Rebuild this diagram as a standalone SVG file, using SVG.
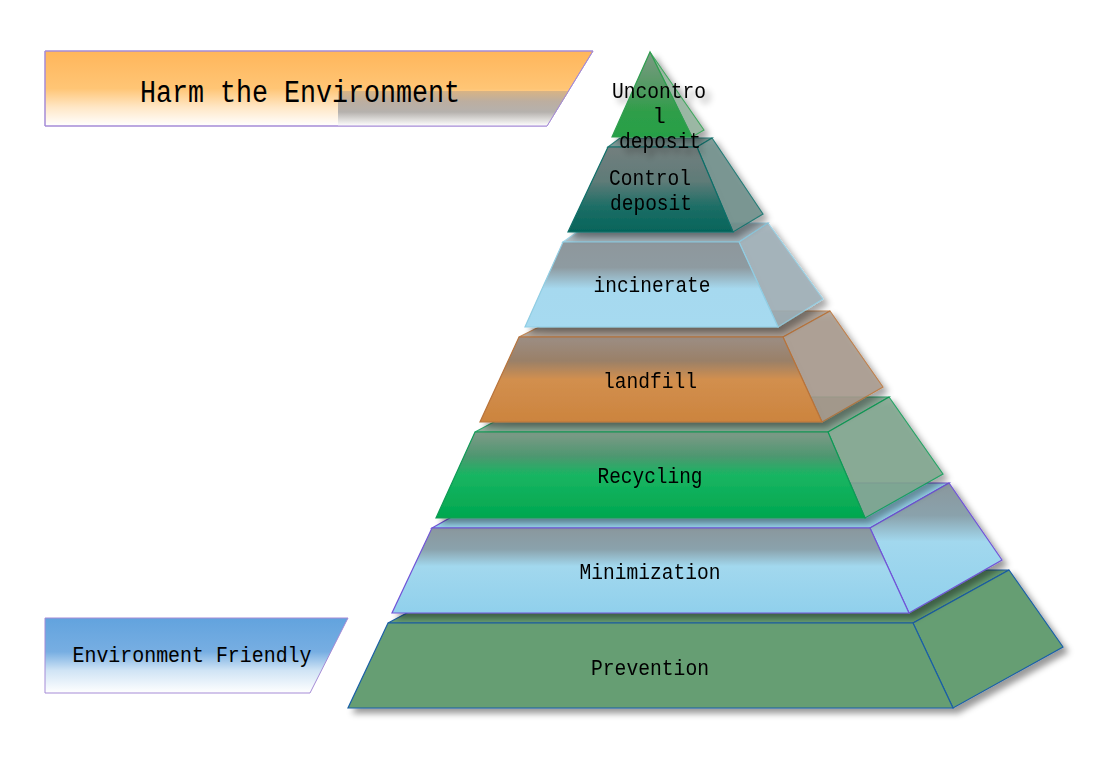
<svg xmlns="http://www.w3.org/2000/svg" width="1107" height="759" viewBox="0 0 1107 759">
<defs>
<style>
.lbl{font-family:"Liberation Mono","DejaVu Sans Mono",monospace;font-size:22px;fill:#000;text-anchor:middle}
.ban{stroke:#a58bd6;stroke-width:1}
.sideop{opacity:0.85}
</style>
<filter id="sh" x="-10%" y="-10%" width="130%" height="130%">
<feDropShadow dx="5" dy="5" stdDeviation="3" flood-color="#000" flood-opacity="0.4"/>
</filter>
<linearGradient id="gTop" x1="0" y1="0" x2="0" y2="1">
<stop offset="0" stop-color="#ffb65b"/><stop offset="0.5" stop-color="#ffc575"/><stop offset="0.75" stop-color="#ffe7c6"/><stop offset="1" stop-color="#ffffff"/>
</linearGradient>
<linearGradient id="gGray" x1="0" y1="0" x2="0" y2="1">
<stop offset="0" stop-color="#d8b384"/><stop offset="0.3" stop-color="#bcaea0"/><stop offset="0.6" stop-color="#b5b1ad"/><stop offset="1" stop-color="#ffffff"/>
</linearGradient>
<linearGradient id="gBot" x1="0" y1="0" x2="0" y2="1">
<stop offset="0" stop-color="#62a3de"/><stop offset="0.45" stop-color="#77aee2"/><stop offset="0.7" stop-color="#d0e4f5"/><stop offset="1" stop-color="#ffffff"/>
</linearGradient>
<linearGradient id="gUn" x1="0" y1="0" x2="0" y2="1">
<stop offset="0" stop-color="#7d9a84"/><stop offset="0.45" stop-color="#4f9a60"/><stop offset="0.7" stop-color="#2f9e49"/><stop offset="1" stop-color="#27a046"/>
</linearGradient>
<linearGradient id="gCtrl" x1="0" y1="0" x2="0" y2="1">
<stop offset="0" stop-color="#737f7e"/><stop offset="0.4" stop-color="#5f7b78"/><stop offset="0.7" stop-color="#1d6e66"/><stop offset="1" stop-color="#04645a"/>
</linearGradient>
<linearGradient id="gInc" x1="0" y1="0" x2="0" y2="1">
<stop offset="0" stop-color="#8e979c"/><stop offset="0.3" stop-color="#8e9ba1"/><stop offset="0.55" stop-color="#a6d9ef"/><stop offset="1" stop-color="#a6daf0"/>
</linearGradient>
<linearGradient id="gLand" x1="0" y1="0" x2="0" y2="1">
<stop offset="0" stop-color="#9c8e84"/><stop offset="0.28" stop-color="#9a8068"/><stop offset="0.5" stop-color="#d28f4e"/><stop offset="1" stop-color="#cc843e"/>
</linearGradient>
<linearGradient id="gRec" x1="0" y1="0" x2="0" y2="1">
<stop offset="0" stop-color="#7f9a88"/><stop offset="0.28" stop-color="#4e9770"/><stop offset="0.5" stop-color="#18b562"/><stop offset="1" stop-color="#00a74f"/>
</linearGradient>
<linearGradient id="gMin" x1="0" y1="0" x2="0" y2="1">
<stop offset="0" stop-color="#8a979d"/><stop offset="0.25" stop-color="#8aa2ac"/><stop offset="0.45" stop-color="#a2d8ee"/><stop offset="1" stop-color="#90d0ec"/>
</linearGradient>
</defs>
<rect width="1107" height="759" fill="#ffffff"/>

<g id="banner-harm">
<polygon class="ban" points="45,51 593,51 547,126 45,126" fill="url(#gTop)"/>
<polygon points="338,91 569,91 547,126 338,126" fill="url(#gGray)"/>
<polygon points="45,51 593,51 547,126 45,126" fill="none" class="ban"/>
<text x="300" y="102" font-family="Liberation Mono, DejaVu Sans Mono, monospace" font-size="31" text-anchor="middle" textLength="320" lengthAdjust="spacingAndGlyphs">Harm the Environment</text>
</g>

<g id="banner-friendly">
<polygon class="ban" points="45,618 348,618 310,693 45,693" fill="url(#gBot)"/>
<text class="lbl" x="192" y="662" textLength="239" lengthAdjust="spacingAndGlyphs">Environment Friendly</text>
</g>

<g id="tier-prevention" filter="url(#sh)">
<polygon points="388,623 488,570 1009,570 913,623" fill="#669e73" stroke="#1a5fa6" stroke-width="1.2"/>
<polygon points="913,623 1009,570 1063,647 953,708" fill="#669e73" stroke="#1a5fa6" stroke-width="1.2"/>
<polygon points="388,623 913,623 953,708 348,708" fill="#669e73" stroke="#1a5fa6" stroke-width="1.2"/>
<text class="lbl" x="650" y="675" textLength="118" lengthAdjust="spacingAndGlyphs">Prevention</text>
</g>

<g id="tier-minimization" filter="url(#sh)">
<polygon points="432,528 512,483 949,483 870,528" fill="#98d4ec" stroke="#7154d8" stroke-width="1.2"/>
<polygon points="870,528 949,483 1002,560 909,613" fill="url(#gMin)" stroke="#7154d8" stroke-width="1.2"/>
<polygon points="432,528 870,528 909,613 392,613" fill="url(#gMin)" stroke="#7154d8" stroke-width="1.2"/>
<text class="lbl" x="650" y="579" textLength="141" lengthAdjust="spacingAndGlyphs">Minimization</text>
</g>

<g id="tier-recycling" filter="url(#sh)">
<polygon class="sideop" points="475,432 541,397 889,397 828,432" fill="#80a48f" stroke="#0e9a55" stroke-width="1.2"/>
<polygon class="sideop" points="828,432 889,397 943,474 865,518" fill="#7fa68e" stroke="#0e9a55" stroke-width="1.2"/>
<polygon points="475,432 828,432 865,518 436,518" fill="url(#gRec)" stroke="#0e9a55" stroke-width="1.2"/>
<text class="lbl" x="650" y="483" textLength="105" lengthAdjust="spacingAndGlyphs">Recycling</text>
</g>

<g id="tier-landfill" filter="url(#sh)">
<polygon class="sideop" points="519,337 571,311 830,311 783,337" fill="#a89a8e" stroke="#b8733a" stroke-width="1.2"/>
<polygon class="sideop" points="783,337 830,311 883,387 822,422" fill="#a89a8e" stroke="#b8733a" stroke-width="1.2"/>
<polygon points="519,337 783,337 822,422 480,422" fill="url(#gLand)" stroke="#b8733a" stroke-width="1.2"/>
<text class="lbl" x="650" y="388" textLength="94" lengthAdjust="spacingAndGlyphs">landfill</text>
</g>

<g id="tier-incinerate" filter="url(#sh)">
<polygon class="sideop" points="563,242 590,223 768,223 739,242" fill="#a0b0b8" stroke="#90cde3" stroke-width="1.2"/>
<polygon class="sideop" points="739,242 768,223 823,299 778,327" fill="#9fb0b8" stroke="#90cde3" stroke-width="1.2"/>
<polygon points="563,242 739,242 778,327 525,327" fill="url(#gInc)" stroke="#90cde3" stroke-width="1.2"/>
<text class="lbl" x="652" y="292" textLength="117" lengthAdjust="spacingAndGlyphs">incinerate</text>
</g>

<g id="tier-control" filter="url(#sh)">
<polygon class="sideop" points="608,147 620,138 712,138 697,147" fill="#6a8a86" stroke="#0d6e68" stroke-width="1.2"/>
<polygon class="sideop" points="697,147 712,138 763,214 733,232" fill="#6f8f8a" stroke="#0d6e68" stroke-width="1.2"/>
<polygon points="608,147 697,147 733,232 568,232" fill="url(#gCtrl)" stroke="#0d6e68" stroke-width="1.2"/>
<text class="lbl" x="650" y="185" textLength="82" lengthAdjust="spacingAndGlyphs">Control</text>
<text class="lbl" x="651" y="210" textLength="82" lengthAdjust="spacingAndGlyphs">deposit</text>
</g>

<g id="tier-uncontrol" filter="url(#sh)">
<polygon class="sideop" points="650,52 704,130 692,137" fill="#94b49e" stroke="#2f9e4f" stroke-width="1.2"/>
<polygon points="650,52 692,137 612,137" fill="url(#gUn)" stroke="#2f9e4f" stroke-width="1.2"/>
<text class="lbl" x="659" y="98" textLength="94" lengthAdjust="spacingAndGlyphs">Uncontro</text>
<text class="lbl" x="659" y="123">l</text>
<text class="lbl" x="660" y="148" textLength="82" lengthAdjust="spacingAndGlyphs">deposit</text>
</g>

<g id="connectors"></g>
</svg>
